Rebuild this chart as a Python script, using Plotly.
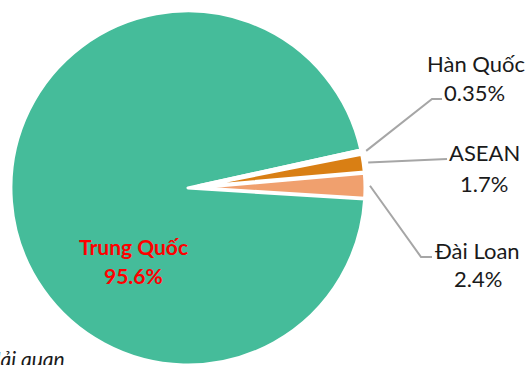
import math
import plotly.graph_objects as go

# ---- data ----
categories = ["Hàn Quốc", "ASEAN", "Đài Loan", "Trung Quốc"]
shares = [0.35, 1.7, 2.4, 95.6]
pct_labels = ["0.35%", "1.7%", "2.4%", "95.6%"]
slice_colors = ["#FFFFFF", "#D97F14", "#F0A06E", "#45BC9A"]
source_note = "Nguồn: Tổng cục Hải quan"

# ---- layout settings ----
W, H = 528, 365
dom_x = [0.0, 0.712]
dom_y = [0.0, 0.97]
rotation = 77.6
pull_small = 0.065
border = 3
clear = "rgba(0,0,0,0)"

def px(x):
    return x / W

def py(y):
    return 1 - y / H

fig = go.Figure()

# big slice (not exploded)
fig.add_trace(go.Pie(
    labels=categories, values=shares, sort=False, direction="clockwise",
    rotation=rotation, domain=dict(x=dom_x, y=dom_y),
    marker=dict(colors=[clear, clear, clear, slice_colors[3]],
                line=dict(color="white", width=[0, 0, 0, border])),
    textinfo="none", hoverinfo="label+percent", showlegend=False,
))
# small slices (exploded)
fig.add_trace(go.Pie(
    labels=categories, values=shares, sort=False, direction="clockwise",
    rotation=rotation, domain=dict(x=dom_x, y=dom_y),
    pull=[pull_small, pull_small, pull_small, 0],
    marker=dict(colors=[slice_colors[0], slice_colors[1], slice_colors[2], clear],
                line=dict(color="white", width=[border, border, border, 0])),
    textinfo="none", hoverinfo="label+percent", showlegend=False,
))

# pie geometry (as plotly computes it)
cx = W * (dom_x[0] + dom_x[1]) / 2
box_h = H * (dom_y[1] - dom_y[0])
cy = H * (1 - dom_y[0]) - box_h / 2
r = min(W * (dom_x[1] - dom_x[0]), box_h) / 2
total = sum(shares)

# leader line start points from slice mid angles
starts = []
acc = 0.0
for v in shares:
    mid = math.radians(rotation + (acc + v / 2) / total * 360)
    acc += v
    R = r + 5
    starts.append((cx + R * math.sin(mid), cy - R * math.cos(mid)))

leader_paths = [
    [starts[0], (432, 99), (442, 99)],
    [starts[1], (447, 159)],
    [starts[2], (421, 257), (432, 257)],
]
shapes = []
for pts in leader_paths:
    path = "M " + " L ".join(f"{px(x):.5f},{py(y):.5f}" for x, y in pts)
    shapes.append(dict(type="path", xref="paper", yref="paper", path=path,
                       line=dict(color="#A6A6A6", width=2)))

label_pos = [
    ((475.5, 63), (474.5, 93)),
    ((484, 153), (483.5, 183)),
    ((477.5, 250), (477.5, 278)),
]
txt_font = dict(family="Lato", size=22, color="#1A1A1A")
annotations = []
for i, ((x1, y1), (x2, y2)) in enumerate(label_pos):
    annotations.append(dict(x=px(x1), y=py(y1), xref="paper", yref="paper",
                            text=categories[i], showarrow=False, font=txt_font,
                            xanchor="center", yanchor="middle"))
    annotations.append(dict(x=px(x2), y=py(y2), xref="paper", yref="paper",
                            text=pct_labels[i], showarrow=False, font=txt_font,
                            xanchor="center", yanchor="middle"))

red_font = dict(family="Lato", size=21, color="#FF0000", weight="bold")
annotations.append(dict(x=px(133), y=py(246), xref="paper", yref="paper",
                        text="<b>" + categories[3] + "</b>", showarrow=False,
                        font=red_font, xanchor="center", yanchor="middle"))
annotations.append(dict(x=px(133.5), y=py(275), xref="paper", yref="paper",
                        text="<b>" + pct_labels[3] + "</b>", showarrow=False,
                        font=red_font, xanchor="center", yanchor="middle"))

annotations.append(dict(x=px(67), y=py(358), xref="paper", yref="paper",
                        text="<i>" + source_note + "</i>", showarrow=False,
                        font=dict(family="Lato", size=21, color="#1A1A1A"),
                        xanchor="right", yanchor="middle"))

fig.update_layout(
    width=W, height=H, margin=dict(l=0, r=0, t=0, b=0),
    paper_bgcolor="white", plot_bgcolor="white", showlegend=False,
    shapes=shapes, annotations=annotations,
)

fig.write_html("out.html")
